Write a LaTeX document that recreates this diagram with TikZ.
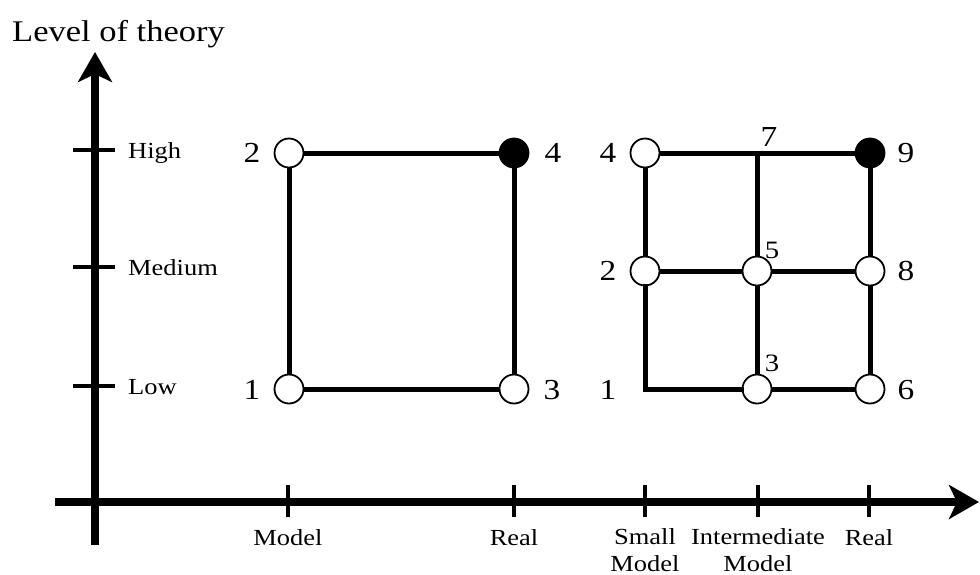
\documentclass[tikz,border=0pt]{standalone}
\usepackage{fontspec}
\setmainfont{Liberation Serif}[FakeStretch=1.15]
\usetikzlibrary{arrows.meta}
\begin{document}
\begin{tikzpicture}[x=1pt,y=-1pt,
  st/.style={circle,draw,line width=1.8pt,minimum size=29pt,inner sep=0pt,fill=white},
  fst/.style={st,fill=black},
  edge/.style={line width=5pt},
  axis/.style={line width=7.5pt,-{Stealth[length=30pt,width=34pt,inset=8pt]}},
  tickmark/.style={line width=3.5pt},
  lab/.style={font=\fontsize{23}{27}\selectfont,inner sep=0pt},
  num/.style={font=\fontsize{29}{32}\selectfont,inner sep=0pt},
  snum/.style={font=\fontsize{25}{28}\selectfont,inner sep=0pt},
  ]
\useasboundingbox (0,0) rectangle (980,574);

% axes
\coordinate (yb) at (95,545);
\coordinate (yt) at (95,52);
\coordinate (xb) at (55,502);
\coordinate (xt) at (979,502);
\draw[axis] (yb) -- (yt);
\draw[axis] (xb) -- (xt);
\node[font=\fontsize{30}{33}\selectfont,inner sep=0pt,anchor=base west] (title) at (12,41) {Level of theory};

% y ticks
\foreach \yy/\tx in {150/High,267/Medium,386/Low}{
  \draw[tickmark] (73,\yy) -- (115,\yy);
  \node[lab,anchor=base west] at (128,\yy+8) {\tx};
}
% x ticks
\foreach \xx in {288,514,645,758,869}{
  \draw[tickmark] (\xx,485) -- (\xx,517);
}
\node[lab,anchor=base] (xm) at (288,545) {Model};
\node[lab,anchor=base] (xr) at (514,545) {Real};
\node[lab,anchor=base,align=center] (xs) at (645,571) {Small\\Model};
\node[lab,anchor=base,align=center] (xi) at (758,571) {Intermediate\\Model};
\node[lab,anchor=base] (xr2) at (869,545) {Real};

% left square
\node[st] (a1) at (289,389) {};
\node[st] (a2) at (289,153) {};
\node[st] (a3) at (514,389) {};
\node[fst] (a4) at (514,153) {};
\draw[edge] (a1) -- (a2);
\draw[edge] (a2) -- (a4);
\draw[edge] (a4) -- (a3);
\draw[edge] (a3) -- (a1);
\node[num] at (252,153) {2};
\node[num] at (252,390) {1};
\node[num] at (553,153) {4};
\node[num] at (552,390) {3};

% right grid
\coordinate (b1) at (645,389);
\node[st] (b2) at (645,271) {};
\node[st] (b4) at (645,153) {};
\node[st] (b3) at (757,389) {};
\node[st] (b5) at (757,271) {};
\coordinate (b7) at (757,153);
\node[st] (b6) at (870,389) {};
\node[st] (b8) at (870,271) {};
\node[fst] (b9) at (870,153) {};
\draw[edge] (b4) -- (b9);
\draw[edge] (b4) -- (b2);
\draw[edge,line cap=rect] (b2.south) |- (b3);
\draw[edge] (b3) -- (b6);
\draw[edge] (b2) -- (b5);
\draw[edge] (b5) -- (b8);
\draw[edge] (b7) -- (b5);
\draw[edge] (b5) -- (b3);
\draw[edge] (b9) -- (b8);
\draw[edge] (b8) -- (b6);
\node[num] at (608,153) {4};
\node[num] at (608,271) {2};
\node[num] at (608,390) {1};
\node[num] at (906,153) {9};
\node[num] at (906,271) {8};
\node[num] at (906,390) {6};
\node[num] at (769,137) {7};
\node[snum] at (772,250) {5};
\node[snum] at (772,363) {3};
\end{tikzpicture}
\end{document}
